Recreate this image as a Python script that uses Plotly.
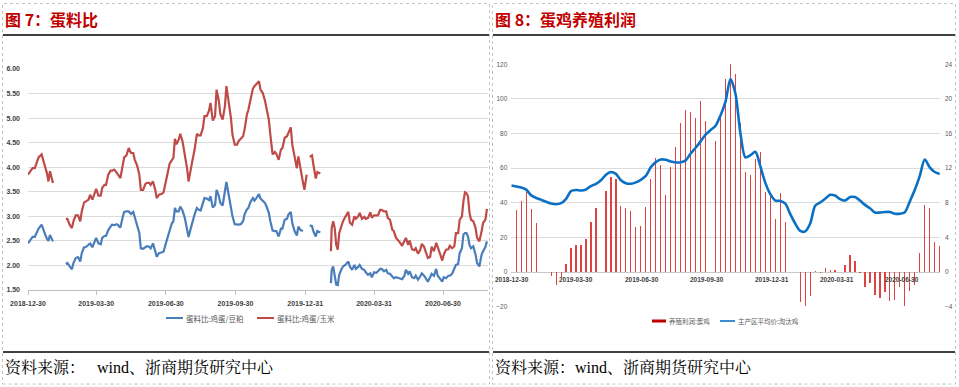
import plotly.graph_objects as go
import pandas as pd

# ================= Figure 7: egg / feed ratio (daily, with holiday gaps) =================
ratio_dates = [
    '2018-12-30', '2019-01-02', '2019-01-05', '2019-01-08', '2019-01-11', '2019-01-13', '2019-01-17',
    '2019-01-19', '2019-01-21', '2019-01-24', '2019-01-26', '2019-01-28', '2019-01-30', '2019-02-01',
    '2019-02-10',
    '2019-02-18', '2019-02-20', '2019-02-23', '2019-02-26', '2019-02-28', '2019-03-03', '2019-03-06',
    '2019-03-09', '2019-03-11', '2019-03-14', '2019-03-16', '2019-03-20', '2019-03-22', '2019-03-25',
    '2019-03-28', '2019-03-30', '2019-04-02', '2019-04-05', '2019-04-07', '2019-04-10', '2019-04-12',
    '2019-04-15', '2019-04-18', '2019-04-20', '2019-04-23', '2019-04-26', '2019-04-28', '2019-05-01',
    '2019-05-04', '2019-05-06', '2019-05-09', '2019-05-12', '2019-05-15', '2019-05-18', '2019-05-20',
    '2019-05-23', '2019-05-26', '2019-05-28', '2019-05-31', '2019-06-03', '2019-06-05', '2019-06-08',
    '2019-06-10', '2019-06-13', '2019-06-16', '2019-06-18', '2019-06-21', '2019-06-25', '2019-06-27',
    '2019-06-30', '2019-07-02', '2019-07-05', '2019-07-08', '2019-07-10', '2019-07-12', '2019-07-14',
    '2019-07-17', '2019-07-19', '2019-07-22', '2019-07-25', '2019-07-28', '2019-07-30', '2019-08-02',
    '2019-08-04', '2019-08-07', '2019-08-10', '2019-08-12', '2019-08-15', '2019-08-18', '2019-08-20',
    '2019-08-23', '2019-08-26', '2019-08-28', '2019-08-31', '2019-09-03', '2019-09-05', '2019-09-08',
    '2019-09-10', '2019-09-13', '2019-09-16', '2019-09-18', '2019-09-21', '2019-09-24', '2019-09-26',
    '2019-09-29', '2019-10-02', '2019-10-04', '2019-10-07', '2019-10-10', '2019-10-12', '2019-10-15',
    '2019-10-17', '2019-10-20', '2019-10-23', '2019-10-25', '2019-10-28', '2019-10-31', '2019-11-02',
    '2019-11-05', '2019-11-08', '2019-11-10', '2019-11-13', '2019-11-15', '2019-11-18', '2019-11-21',
    '2019-11-23', '2019-11-26', '2019-11-29', '2019-12-01', '2019-12-04', '2019-12-07', '2019-12-09',
    '2019-12-12', '2019-12-14', '2019-12-17', '2019-12-20', '2019-12-22', '2019-12-25', '2019-12-28',
    '2019-12-30', '2020-01-02', '2020-01-04',
    '2020-01-06', '2020-01-09', '2020-01-11', '2020-01-14', '2020-01-16', '2020-01-20', '2020-01-27',
    '2020-02-03', '2020-02-04', '2020-02-06', '2020-02-08', '2020-02-10', '2020-02-12', '2020-02-14',
    '2020-02-17', '2020-02-19', '2020-02-22', '2020-02-25', '2020-02-26', '2020-02-28', '2020-03-02',
    '2020-03-05', '2020-03-07', '2020-03-10', '2020-03-12', '2020-03-15', '2020-03-18', '2020-03-20',
    '2020-03-23', '2020-03-26', '2020-03-28', '2020-03-31', '2020-04-03', '2020-04-05', '2020-04-08',
    '2020-04-10', '2020-04-13', '2020-04-16', '2020-04-18', '2020-04-21', '2020-04-24', '2020-04-26',
    '2020-04-29', '2020-05-02', '2020-05-04', '2020-05-07', '2020-05-10', '2020-05-12', '2020-05-15',
    '2020-05-17', '2020-05-20', '2020-05-23', '2020-05-25', '2020-05-28', '2020-05-31', '2020-06-02',
    '2020-06-05', '2020-06-08', '2020-06-10', '2020-06-13', '2020-06-15', '2020-06-18', '2020-06-21',
    '2020-06-23', '2020-06-26', '2020-06-29', '2020-07-01', '2020-07-04', '2020-07-07', '2020-07-09',
    '2020-07-12', '2020-07-15', '2020-07-17', '2020-07-20', '2020-07-22', '2020-07-25', '2020-07-27',
    '2020-07-29', '2020-07-31', '2020-08-02', '2020-08-04', '2020-08-06', '2020-08-09', '2020-08-12',
    '2020-08-14', '2020-08-17', '2020-08-20', '2020-08-22', '2020-08-25', '2020-08-27',
]

egg_soy = [  # 蛋料比:鸡蛋/豆粕
    2.45, 2.52, 2.58, 2.58, 2.69, 2.75, 2.83, 2.76, 2.66, 2.54, 2.50, 2.62, 2.56, 2.49,
    None,
    2.03, 2.05, 1.98, 1.92, 2.05, 2.15, 2.17, 2.08, 2.25, 2.37, 2.37, 2.42, 2.45, 2.37,
    2.48, 2.56, 2.45, 2.43, 2.56, 2.60, 2.60, 2.72, 2.79, 2.83, 2.82, 2.84, 2.82, 2.77,
    2.98, 3.09, 3.10, 3.10, 3.05, 3.09, 2.98, 2.84, 2.66, 2.35, 2.34, 2.37, 2.39, 2.38,
    2.35, 2.45, 2.28, 2.18, 2.25, 2.27, 2.28, 2.45, 2.56, 2.75, 2.86, 2.90, 3.17, 3.10,
    3.10, 3.20, 3.12, 2.97, 2.75, 2.58, 2.76, 2.90, 3.04, 3.17, 3.14, 3.12, 3.30, 3.37,
    3.36, 3.33, 3.41, 3.18, 3.23, 3.54, 3.41, 3.27, 3.22, 3.51, 3.70, 3.44, 3.17, 3.00,
    2.84, 2.83, 2.83, 2.84, 2.90, 3.04, 3.14, 3.17, 3.30, 3.37, 3.32, 3.38, 3.45, 3.36,
    3.32, 3.27, 3.20, 3.07, 2.90, 2.71, 2.70, 2.70, 2.59, 2.75, 2.75, 2.93, 2.95, 3.04,
    3.09, 2.86, 2.70, 2.61, 2.79, 2.72, 2.70,
    None, None, None,
    2.82, 2.80, 2.69, 2.59, 2.70, 2.67, None,
    1.64, 1.91, 1.98, 1.78, 1.61, 1.60, 1.81, 1.93, 1.98, 2.01, 2.08, 2.08, 1.98, 1.91,
    2.01, 1.93, 1.97, 2.01, 1.93, 1.91, 1.86, 1.81, 1.84, 1.76, 1.86, 1.85, 1.88, 1.93,
    1.93, 1.88, 1.91, 1.84, 1.83, 1.76, 1.74, 1.76, 1.74, 1.74, 1.72, 1.79, 1.91, 1.83,
    1.88, 1.76, 1.74, 1.79, 1.71, 1.78, 1.84, 1.79, 1.72, 1.67, 1.76, 1.83, 1.79, 1.93,
    1.79, 1.74, 1.67, 1.76, 1.74, 1.79, 1.79, 1.83, 1.93, 2.01, 2.03, 2.25, 2.35, 2.63,
    2.66, 2.66, 2.59, 2.42, 2.35, 2.39, 2.22, 2.05, 1.98, 2.22, 2.29, 2.38, 2.49,
]

egg_corn = [  # 蛋料比:鸡蛋/玉米
    3.85, 3.92, 3.98, 3.98, 4.10, 4.20, 4.26, 4.13, 4.04, 3.88, 3.71, 3.92, 3.81, 3.68,
    None,
    2.95, 2.95, 2.83, 2.76, 2.90, 3.02, 3.02, 2.90, 3.10, 3.28, 3.30, 3.34, 3.44, 3.34,
    3.47, 3.56, 3.42, 3.42, 3.58, 3.64, 3.64, 3.85, 3.93, 3.93, 3.95, 3.90, 3.85, 3.78,
    4.06, 4.20, 4.24, 4.39, 4.29, 4.29, 4.15, 4.04, 3.85, 3.54, 3.54, 3.66, 3.68, 3.68,
    3.64, 3.71, 3.54, 3.37, 3.44, 3.46, 3.49, 3.75, 3.85, 4.07, 4.13, 4.19, 4.58, 4.47,
    4.56, 4.68, 4.53, 4.26, 3.98, 3.71, 3.92, 4.13, 4.36, 4.68, 4.65, 4.65, 4.80, 5.04,
    5.04, 5.15, 5.31, 4.95, 5.04, 5.58, 5.35, 5.08, 4.97, 5.24, 5.65, 5.35, 5.00, 4.66,
    4.46, 4.46, 4.53, 4.58, 4.63, 4.77, 5.07, 5.17, 5.38, 5.60, 5.65, 5.70, 5.75, 5.58,
    5.51, 5.35, 5.21, 4.97, 4.66, 4.26, 4.31, 4.27, 4.15, 4.36, 4.39, 4.60, 4.63, 4.70,
    4.81, 4.46, 4.22, 3.98, 4.22, 3.92, 3.70,
    3.54, 3.85, None,
    4.21, 4.24, 4.04, 3.77, 3.90, 3.87, None,
    2.29, 2.76, 2.90, 2.76, 2.42, 2.32, 2.66, 2.83, 2.90, 2.99, 3.08, 3.09, 2.87, 2.83,
    3.00, 2.95, 3.00, 3.07, 2.95, 2.99, 2.95, 2.97, 3.08, 2.97, 3.02, 3.02, 3.02, 3.13,
    3.13, 3.10, 3.10, 2.97, 2.93, 2.73, 2.70, 2.56, 2.51, 2.47, 2.40, 2.49, 2.56, 2.42,
    2.51, 2.33, 2.31, 2.35, 2.24, 2.32, 2.44, 2.38, 2.25, 2.15, 2.17, 2.38, 2.29, 2.46,
    2.38, 2.24, 2.10, 2.22, 2.32, 2.33, 2.40, 2.35, 2.39, 2.66, 2.66, 2.93, 3.00, 3.31,
    3.49, 3.47, 3.41, 3.07, 2.93, 2.90, 2.76, 2.56, 2.49, 2.70, 2.87, 2.93, 3.15,
]

date_ticks = ['2018-12-30', '2019-03-30', '2019-06-30', '2019-09-30',
              '2019-12-31', '2020-03-31', '2020-06-30']
ratio_yticks = [1.5, 2.0, 2.5, 3.0, 3.5, 4.0, 4.5, 5.0, 5.5, 6.0]

# ================= Figure 8: layer farming profit (weekly) =================
week_dates = pd.date_range('2018-12-29', periods=87, freq='7D')

layer_profit = [  # 养殖利润:蛋鸡 (left axis)
    None,
    35.8, 41.3, 46.5, 36.5, 28.5, None, None, -2.5, -7.3, -3.0,
    4.6, 13.7, 15.8, 15.8, 19.2, 28.8, 37.1, None, 46.9, 55.2,
    53.8, 38.0, 37.1, 35.2, 26.3, 26.9, 37.7, 53.8, 66.0, 61.9,
    44.8, 60.4, 72.3, 86.2, 93.8, 92.7, 88.8, 98.7, 87.5, None,
    75.8, 89.2, 111.5, 120.0, 114.4, 86.3, 57.7, 56.0, 65.4, 69.4,
    46.5, 44.2, 30.4, 45.6, 28.8, None, None, -17.5, -19.8, -13.7,
    0.8, -0.6, 2.5, 1.2, 1.3, None, 3.8, 9.6, 6.2, -0.6,
    -8.7, -6.3, -13.1, -15.0, -11.5, -16.9, -16.3, -8.8, -19.8, -11.2,
    -7.3, 11.0, 39.0, 37.1, 17.1, 15.2,
]

culled_hen_price = [  # 主产区平均价:淘汰鸡 (right axis)
    10.00,
    9.88, 9.76, 9.52, 8.86, 8.56, 8.34, 8.12, 7.92, 7.84, 7.96,
    8.46, 9.36, 9.48, 9.42, 9.54, 9.94, 10.18, 10.60, 11.24, 11.56,
    11.34, 10.60, 10.26, 10.20, 10.36, 10.66, 11.10, 12.10, 12.70, 13.00,
    12.98, 12.76, 12.66, 12.68, 12.90, 13.70, 14.36, 15.10, 15.88, 16.40,
    16.90, 18.10, 19.70, 22.30, 20.60, 16.00, 13.26, 13.50, 13.90, 12.20,
    10.30, 9.00, 8.26, 8.22, 7.90, 6.70, 5.60, 4.76, 4.70, 5.60,
    7.66, 8.04, 8.46, 8.92, 8.84, 8.42, 8.26, 8.66, 8.66, 8.26,
    7.76, 7.38, 6.88, 6.88, 6.94, 6.94, 6.74, 6.74, 6.92, 8.16,
    9.50, 11.12, 13.00, 12.10, 11.56, 11.34,
]

profit_ticks = [-20, 0, 20, 40, 60, 80, 100, 120]
price_ticks = [-4, 0, 4, 8, 12, 16, 20, 24]

# ================= layout helpers =================
W, H = 959, 387


def fx(px):
    return px / W


def fy(py):
    return 1 - py / H


CJK = 'Noto Sans CJK SC'
SANS = 'Liberation Sans, Arial, sans-serif'
GRID = '#DCDCDC'

fig = go.Figure()

fig.add_trace(go.Scatter(
    x=ratio_dates, y=egg_soy, name='蛋料比:鸡蛋/豆粕', mode='lines',
    line=dict(color='#4A7EBB', width=2.2), connectgaps=False,
    xaxis='x', yaxis='y'))
fig.add_trace(go.Scatter(
    x=ratio_dates, y=egg_corn, name='蛋料比:鸡蛋/玉米', mode='lines',
    line=dict(color='#BE4B48', width=2.2), connectgaps=False,
    xaxis='x', yaxis='y'))

day_ms = 86400000
fig.add_trace(go.Bar(
    x=week_dates, y=layer_profit, name='养殖利润:蛋鸡',
    marker=dict(color='#DC4444', line=dict(width=0)),
    width=1.7 * day_ms, xaxis='x2', yaxis='y2'))
fig.add_trace(go.Scatter(
    x=week_dates, y=culled_hen_price, name='主产区平均价:淘汰鸡', mode='lines',
    line=dict(color='#0A70C4', width=2.6, shape='spline', smoothing=0.8),
    xaxis='x2', yaxis='y3'))

fig.update_layout(
    template='none',
    width=W, height=H, margin=dict(l=0, r=0, t=0, b=0, pad=0, autoexpand=False),
    paper_bgcolor='white', plot_bgcolor='white', showlegend=False,
    bargap=0,
    xaxis=dict(
        domain=[fx(28), fx(488)], type='date', automargin=False,
        range=['2018-12-30', '2020-08-28 10:00'],
        tickmode='array', tickvals=date_ticks, ticktext=date_ticks,
        tickfont=dict(family=SANS, size=7, color='#404040', weight='bold'),
        showgrid=False, showline=True, linecolor='#BFBFBF', linewidth=1,
        ticks='outside', ticklen=4, tickcolor='#BFBFBF', ticklabelstandoff=3,
        zeroline=False, anchor='y', fixedrange=True),
    yaxis=dict(
        domain=[fy(290), fy(69)], range=[1.5, 6.0], automargin=False,
        tickmode='array', tickvals=ratio_yticks, tickformat='.2f',
        tickfont=dict(family=SANS, size=7, color='#404040', weight='bold'),
        showgrid=True, gridcolor=GRID, gridwidth=1,
        showline=False, zeroline=False, ticks='', ticklabelstandoff=7,
        anchor='x', fixedrange=True),
    xaxis2=dict(
        domain=[fx(511.3), fx(940)], type='date', automargin=False,
        range=['2018-12-29', '2020-08-22 10:00'],
        showticklabels=False, showgrid=False, showline=False, zeroline=False,
        ticks='', anchor='y2', fixedrange=True),
    yaxis2=dict(
        domain=[fy(306.7), fy(64.3)], range=[-20, 120], automargin=False,
        tickmode='array', tickvals=profit_ticks,
        tickfont=dict(family=SANS, size=6.5, color='#595959'),
        showgrid=True, gridcolor=GRID, gridwidth=1,
        zeroline=True, zerolinecolor='#C8C8C8', zerolinewidth=1,
        showline=False, ticks='', ticklabelstandoff=3,
        anchor='x2', fixedrange=True),
    yaxis3=dict(
        range=[-4, 24], overlaying='y2', side='right', automargin=False,
        tickmode='array', tickvals=price_ticks,
        tickfont=dict(family=SANS, size=6.5, color='#595959'),
        showgrid=False, zeroline=False, showline=False, ticks='',
        ticklabelstandoff=4, anchor='x2', fixedrange=True),
)

shapes = []
# dashed panel borders
for x0, x1 in [(2.5, 489.5), (492.5, 955.5)]:
    shapes.append(dict(type='rect', xref='paper', yref='paper',
                       x0=fx(x0), x1=fx(x1), y0=fy(384), y1=fy(3.5),
                       line=dict(color='#C4C4C4', width=1, dash='dot'),
                       fillcolor='rgba(0,0,0,0)', layer='below'))
# black rules under titles and above sources
for x0, x1 in [(3, 489), (493, 955)]:
    for yy in (35, 352):
        shapes.append(dict(type='line', xref='paper', yref='paper',
                           x0=fx(x0), x1=fx(x1), y0=fy(yy), y1=fy(yy),
                           line=dict(color='black', width=1.6)))
# legend swatches
shapes.append(dict(type='line', xref='paper', yref='paper', x0=fx(166), x1=fx(183),
                   y0=fy(318), y1=fy(318), line=dict(color='#4A7EBB', width=2)))
shapes.append(dict(type='line', xref='paper', yref='paper', x0=fx(257), x1=fx(274),
                   y0=fy(318), y1=fy(318), line=dict(color='#BE4B48', width=2)))
shapes.append(dict(type='rect', xref='paper', yref='paper', x0=fx(652), x1=fx(666),
                   y0=fy(322.5), y1=fy(319.5), line=dict(width=0), fillcolor='#C00000'))
shapes.append(dict(type='line', xref='paper', yref='paper', x0=fx(720), x1=fx(735),
                   y0=fy(321), y1=fy(321), line=dict(color='#0A70C4', width=1.6)))
fig.update_layout(shapes=shapes)

ann = []


def txt(x, y, s, size, color='#000000', family=CJK, weight='normal', xanchor='left'):
    ann.append(dict(x=fx(x), y=fy(y), xref='paper', yref='paper', text=s,
                    showarrow=False, xanchor=xanchor, yanchor='middle',
                    font=dict(size=size, color=color, family=family, weight=weight)))


txt(3, 18.5, '图 7：蛋料比', 16, '#C00000', weight='bold')
txt(493, 18.5, '图 8：蛋鸡养殖利润', 16, '#C00000', weight='bold')
src_font = 'Liberation Serif, Noto Serif CJK SC, Noto Sans CJK SC, serif'
txt(3, 367, '资料来源：\u00a0\u00a0\u00a0wind、浙商期货研究中心', 16, '#000000', family=src_font)
txt(493, 367, '资料来源：wind、浙商期货研究中心', 16, '#000000', family=src_font)
txt(184, 318, '蛋料比:鸡蛋/豆粕', 7.5, '#595959')
txt(275, 318, '蛋料比:鸡蛋/玉米', 7.5, '#595959')
txt(667, 321, '养殖利润:蛋鸡', 6.5, '#595959')
txt(736, 321, '主产区平均价:淘汰鸡', 6.5, '#595959')

# right-chart date labels sit on the zero line (axis crosses at 0)
for d in date_ticks:
    ann.append(dict(x=d, y=0, xref='x2', yref='y2', text=d, showarrow=False,
                    xanchor='center', yanchor='top', yshift=-2,
                    font=dict(size=6.5, color='#404040', family=SANS, weight='bold')))

fig.update_layout(annotations=ann)

fig.write_html('out.html',
               config={'displayModeBar': False, 'staticPlot': True},
               post_script="document.body.style.margin='0';document.body.style.overflow='hidden';")
